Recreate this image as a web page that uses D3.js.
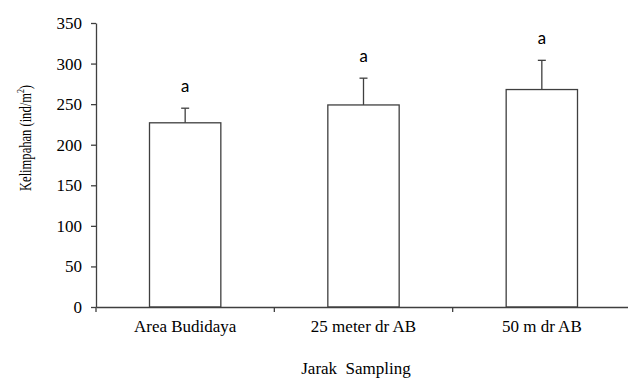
<!DOCTYPE html>
<html>
<head>
<meta charset="utf-8">
<script src="https://cdn.jsdelivr.net/npm/d3@7"></script>
<style>
  body { margin: 0; background: #fff; }
</style>
</head>
<body>
<div id="chart"></div>
<script>
var categories = ["Area Budidaya", "25 meter dr AB", "50 m dr AB"];
var values = [227, 249, 268];
var errors = [18, 33, 36];
var letters = ["a", "a", "a"];
var yTicks = [0, 50, 100, 150, 200, 250, 300, 350];

var width = 628;
var height = 378;
var stroke = "#3f3f3f";
var serif = "'Liberation Serif', 'Times New Roman', Times, serif";
var sans = "Carlito, 'Open Sans', 'DejaVu Sans', sans-serif";

var svg = d3.select("#chart").append("svg")
  .attr("width", width)
  .attr("height", height);

/* Scale */
var xScale = d3.scaleBand()
  .domain(categories)
  .range([96, 631])
  .paddingInner(0.6)
  .paddingOuter(0.3);

var xTickScale = d3.scaleBand()
  .domain(categories)
  .range([96, 631]);

var yScale = d3.scaleLinear()
  .domain([0, 350])
  .range([307, 23]);

/* Bars */
svg.selectAll(".bar")
  .data(values).enter()
  .append("rect")
  .attr("class", "bar")
  .attr("x", (d, i) => xScale(categories[i]))
  .attr("y", d => yScale(d))
  .attr("width", xScale.bandwidth())
  .attr("height", d => yScale(0) - yScale(d))
  .attr("fill", "#fff")
  .attr("stroke", stroke)
  .attr("stroke-width", 1.3);

/* Error bars */
var cx = i => xScale(categories[i]) + xScale.bandwidth() / 2;

svg.selectAll(".err")
  .data(values).enter()
  .append("line")
  .attr("class", "err")
  .attr("x1", (d, i) => cx(i))
  .attr("x2", (d, i) => cx(i))
  .attr("y1", d => yScale(d))
  .attr("y2", (d, i) => yScale(d + errors[i]))
  .attr("stroke", stroke)
  .attr("stroke-width", 1.3);

svg.selectAll(".cap")
  .data(values).enter()
  .append("line")
  .attr("class", "cap")
  .attr("x1", (d, i) => cx(i) - 4)
  .attr("x2", (d, i) => cx(i) + 4)
  .attr("y1", (d, i) => yScale(d + errors[i]))
  .attr("y2", (d, i) => yScale(d + errors[i]))
  .attr("stroke", stroke)
  .attr("stroke-width", 1.3);

/* Letters */
svg.selectAll(".letter")
  .data(values).enter()
  .append("text")
  .attr("class", "letter")
  .attr("x", (d, i) => cx(i))
  .attr("y", (d, i) => yScale(d + errors[i]) - 16)
  .attr("text-anchor", "middle")
  .attr("font-family", sans)
  .attr("font-size", 18)
  .attr("fill", "#000")
  .text((d, i) => letters[i]);

/* Axes */
var yAxis = d3.axisLeft(yScale).tickValues(yTicks).tickSize(5).tickSizeOuter(0);
var gy = svg.append("g")
  .attr("transform", "translate(96,0)")
  .call(yAxis);
gy.attr("font-family", serif).attr("font-size", 17);
gy.select(".domain").attr("stroke", stroke).attr("stroke-width", 1.3);
gy.selectAll(".tick line").attr("stroke", stroke).attr("stroke-width", 1.3);
gy.selectAll(".tick text").attr("x", -14).attr("fill", "#000");

var xAxis = d3.axisBottom(xTickScale).tickSize(0).tickSizeOuter(0);
var gx = svg.append("g")
  .attr("transform", "translate(0,307)")
  .call(xAxis);
gx.attr("font-family", serif).attr("font-size", 17);
gx.select(".domain").attr("stroke", stroke).attr("stroke-width", 1.3);
gx.selectAll(".tick text").attr("y", 25).attr("dy", 0).attr("fill", "#000");

/* Category boundary ticks below the axis */
svg.selectAll(".xsep")
  .data(categories).enter()
  .append("line")
  .attr("class", "xsep")
  .attr("x1", d => xTickScale(d))
  .attr("x2", d => xTickScale(d))
  .attr("y1", 307)
  .attr("y2", 312)
  .attr("stroke", stroke)
  .attr("stroke-width", 1.3);

/* Axis titles */
svg.append("text")
  .attr("x", 356)
  .attr("y", 374)
  .attr("text-anchor", "middle")
  .attr("font-family", serif)
  .attr("font-size", 17)
  .attr("fill", "#000")
  .style("white-space", "pre")
  .text("Jarak  Sampling");

var ylab = svg.append("text")
  .attr("transform", "translate(31,138) rotate(-90)")
  .attr("text-anchor", "middle")
  .attr("font-family", serif)
  .attr("font-size", 16)
  .attr("fill", "#000")
  .attr("textLength", 106)
  .attr("lengthAdjust", "spacingAndGlyphs");
ylab.append("tspan").text("Kelimpahan (ind/m");
ylab.append("tspan").attr("dy", -7).attr("font-size", 10).text("2");
ylab.append("tspan").attr("dy", 7).text(")");
</script>
</body>
</html>
